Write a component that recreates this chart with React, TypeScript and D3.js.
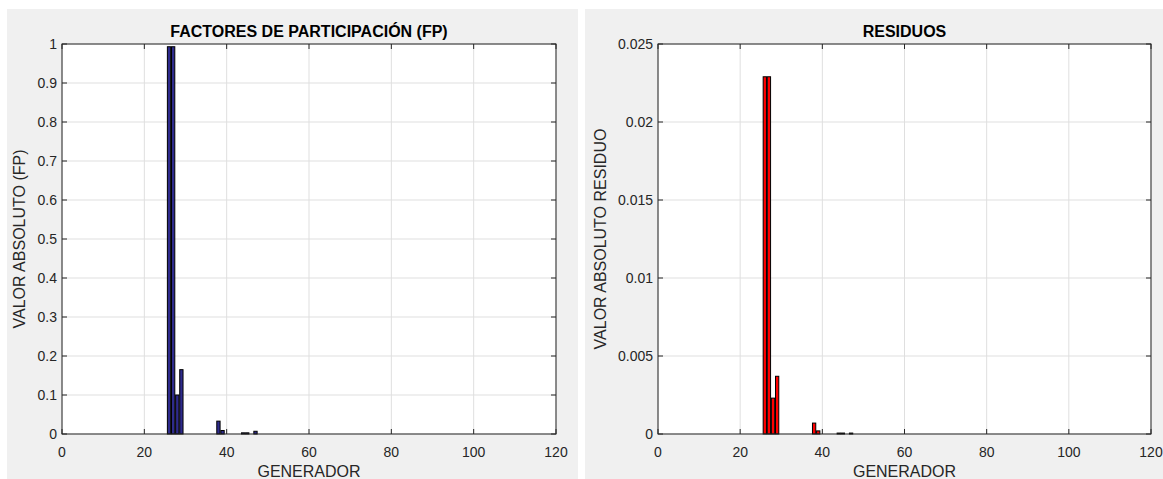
import React from "react";
import * as d3 from "d3";

// Generators 1..118
const fpValues: number[] = [
  0, 0, 0, 0, 0, 0, 0, 0, 0, 0,
  0, 0, 0, 0, 0, 0, 0, 0, 0, 0,
  0, 0, 0, 0, 0, 0.993, 0.993, 0.1, 0.165, 0,
  0, 0, 0, 0, 0, 0, 0, 0.033, 0.009, 0,
  0, 0, 0, 0.003, 0.003, 0, 0.007, 0, 0, 0,
  0, 0, 0, 0, 0, 0, 0, 0, 0, 0,
  0, 0, 0, 0, 0, 0, 0, 0, 0, 0,
  0, 0, 0, 0, 0, 0, 0, 0, 0, 0,
  0, 0, 0, 0, 0, 0, 0, 0, 0, 0,
  0, 0, 0, 0, 0, 0, 0, 0, 0, 0,
  0, 0, 0, 0, 0, 0, 0, 0, 0, 0,
  0, 0, 0, 0, 0, 0, 0, 0,
];

const residueValues: number[] = [
  0, 0, 0, 0, 0, 0, 0, 0, 0, 0,
  0, 0, 0, 0, 0, 0, 0, 0, 0, 0,
  0, 0, 0, 0, 0, 0.0229, 0.0229, 0.0023, 0.0037, 0,
  0, 0, 0, 0, 0, 0, 0, 0.0007, 0.0002, 0,
  0, 0, 0, 0.00006, 0.00006, 0, 0.00006, 0, 0, 0,
  0, 0, 0, 0, 0, 0, 0, 0, 0, 0,
  0, 0, 0, 0, 0, 0, 0, 0, 0, 0,
  0, 0, 0, 0, 0, 0, 0, 0, 0, 0,
  0, 0, 0, 0, 0, 0, 0, 0, 0, 0,
  0, 0, 0, 0, 0, 0, 0, 0, 0, 0,
  0, 0, 0, 0, 0, 0, 0, 0, 0, 0,
  0, 0, 0, 0, 0, 0, 0, 0,
];

const xTicks: number[] = [0, 20, 40, 60, 80, 100, 120];
const fpTicks: number[] = [0, 0.1, 0.2, 0.3, 0.4, 0.5, 0.6, 0.7, 0.8, 0.9, 1];
const fpTickLabels: string[] = ["0", "0.1", "0.2", "0.3", "0.4", "0.5", "0.6", "0.7", "0.8", "0.9", "1"];
const resTicks: number[] = [0, 0.005, 0.01, 0.015, 0.02, 0.025];
const resTickLabels: string[] = ["0", "0.005", "0.01", "0.015", "0.02", "0.025"];

const FONT = "'Liberation Sans', Arial, Helvetica, sans-serif";
const AXIS = "#262626";
const GRID = "#dfdfdf";

type PanelProps = {
  px: number;
  pw: number;
  ax: number;
  aw: number;
  labelX: number;
  title: string;
  ylabel: string;
  values: number[];
  yMax: number;
  yTicks: number[];
  yTickLabels: string[];
  fill: string;
};

function Panel(p: PanelProps) {
  const top = 44;
  const bottom = 434;
  const x = d3.scaleLinear().domain([0, 120]).range([p.ax, p.ax + p.aw]);
  const y = d3.scaleLinear().domain([0, p.yMax]).range([bottom, top]);
  const bw = (x(1) - x(0)) * 0.8;
  const tickLen = 5;
  return (
    <g>
      <rect x={p.px} y={9} width={p.pw} height={479 - 9} fill="#f0f0f0" />
      <rect x={p.ax} y={top} width={p.aw} height={bottom - top} fill="#ffffff" />
      {xTicks.map((t) => (
        <line key={"gx" + t} x1={x(t)} x2={x(t)} y1={top} y2={bottom} stroke={GRID} strokeWidth={1} />
      ))}
      {p.yTicks.map((t) => (
        <line key={"gy" + t} x1={p.ax} x2={p.ax + p.aw} y1={y(t)} y2={y(t)} stroke={GRID} strokeWidth={1} />
      ))}
      {p.values.map((v, i) => {
        const g = i + 1;
        const x0 = x(g) - bw / 2;
        const y0 = y(v);
        return (
          <rect
            key={"b" + g}
            x={x0}
            y={y0}
            width={bw}
            height={Math.max(0, bottom - y0)}
            fill={p.fill}
            stroke="#000000"
            strokeWidth={1}
          />
        );
      })}
      {xTicks.map((t) => (
        <g key={"tx" + t}>
          <line x1={x(t)} x2={x(t)} y1={bottom} y2={bottom - tickLen} stroke={AXIS} />
          <line x1={x(t)} x2={x(t)} y1={top} y2={top + tickLen} stroke={AXIS} />
          <text x={x(t)} y={452} textAnchor="middle" dominantBaseline="central" fontSize={14} fill={AXIS} fontFamily={FONT}>
            {t}
          </text>
        </g>
      ))}
      {p.yTicks.map((t, i) => (
        <g key={"ty" + t}>
          <line x1={p.ax} x2={p.ax + tickLen} y1={y(t)} y2={y(t)} stroke={AXIS} />
          <line x1={p.ax + p.aw} x2={p.ax + p.aw - tickLen} y1={y(t)} y2={y(t)} stroke={AXIS} />
          <text x={p.ax - 5} y={y(t)} textAnchor="end" dominantBaseline="central" fontSize={14} fill={AXIS} fontFamily={FONT}>
            {p.yTickLabels[i]}
          </text>
        </g>
      ))}
      <rect x={p.ax} y={top} width={p.aw} height={bottom - top} fill="none" stroke={AXIS} strokeWidth={1} />
      <text x={p.ax + p.aw / 2} y={31} textAnchor="middle" dominantBaseline="central" fontSize={16} fontWeight="bold" fill="#000" fontFamily={FONT}>
        {p.title}
      </text>
      <text x={p.ax + p.aw / 2} y={471} textAnchor="middle" dominantBaseline="central" fontSize={16} fill={AXIS} fontFamily={FONT}>
        GENERADOR
      </text>
      <text
        transform={`translate(${p.labelX},${(top + bottom) / 2}) rotate(-90)`}
        textAnchor="middle"
        dominantBaseline="central"
        fontSize={16}
        fill={AXIS}
        fontFamily={FONT}
      >
        {p.ylabel}
      </text>
    </g>
  );
}

export default function App() {
  return (
    <svg
      width={1163}
      height={479}
      style={{ position: "absolute", left: 0, top: 0, background: "#ffffff" }}
    >
      <Panel
        px={7}
        pw={571}
        ax={62}
        aw={494}
        labelX={19}
        title="FACTORES DE PARTICIPACIÓN (FP)"
        ylabel="VALOR ABSOLUTO (FP)"
        values={fpValues}
        yMax={1}
        yTicks={fpTicks}
        yTickLabels={fpTickLabels}
        fill="#2e2b8c"
      />
      <Panel
        px={585}
        pw={578}
        ax={658}
        aw={493}
        labelX={600}
        title="RESIDUOS"
        ylabel="VALOR ABSOLUTO RESIDUO"
        values={residueValues}
        yMax={0.025}
        yTicks={resTicks}
        yTickLabels={resTickLabels}
        fill="#ff0000"
      />
    </svg>
  );
}
